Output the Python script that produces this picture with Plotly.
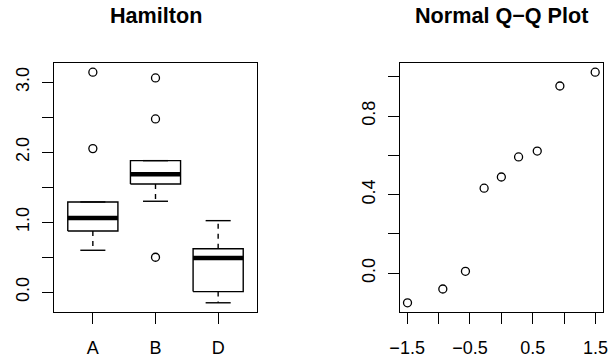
import plotly.graph_objects as go
from statistics import NormalDist

# ---------------- data ----------------
groups = ["A", "B", "D"]
lower_whisker = [0.600, 1.300, -0.150]
q1 = [0.876, 1.547, 0.010]
median = [1.061, 1.686, 0.490]
q3 = [1.290, 1.880, 0.622]
upper_whisker = [1.290, 1.880, 1.023]
outlier_group = ["A", "A", "B", "B", "B"]
outlier_value = [2.052, 3.143, 0.500, 2.476, 3.061]

qq_sample = [-0.150, -0.080, 0.010, 0.433, 0.490, 0.592, 0.622, 0.953, 1.023]

left_yticks = [0.0, 0.5, 1.0, 1.5, 2.0, 2.5, 3.0]
left_yticklabels = ["0.0", "", "1.0", "", "2.0", "", "3.0"]
right_xticks = [-1.5, -1.0, -0.5, 0.0, 0.5, 1.0, 1.5]
right_xticklabels = ["\u22121.5", "", "\u22120.5", "", "0.5", "", "1.5"]
right_yticks = [0.0, 0.2, 0.4, 0.6, 0.8, 1.0]
right_yticklabels = ["0.0", "", "0.4", "", "0.8", ""]

titles = ["Hamilton", "Normal Q\u2212Q Plot"]

# ---------------- helpers ----------------
def padded(lo, hi, f=0.04):
    d = (hi - lo) * f
    return [lo - d, hi + d]

FONT = "Liberation Sans, Arial, Helvetica, sans-serif"
BOXWEX = 0.8
STAPLE = 0.5 * BOXWEX
pos = [i + 1 for i in range(len(groups))]

fig = go.Figure()

# box outlines
bx, by = [], []
for p, a, b in zip(pos, q1, q3):
    h = BOXWEX / 2
    bx += [p - h, p + h, p + h, p - h, p - h, None]
    by += [a, a, b, b, a, None]
fig.add_trace(go.Scatter(x=bx, y=by, mode="lines", line=dict(color="black", width=1.4),
                         xaxis="x", yaxis="y", showlegend=False, hoverinfo="skip"))
# medians
mx, my = [], []
for p, m in zip(pos, median):
    h = BOXWEX / 2
    mx += [p - h, p + h, None]
    my += [m, m, None]
fig.add_trace(go.Scatter(x=mx, y=my, mode="lines", line=dict(color="black", width=4.5),
                         xaxis="x", yaxis="y", showlegend=False, hoverinfo="skip"))
# whiskers (dashed)
wx, wy = [], []
for p, a, b, lo, hi in zip(pos, q1, q3, lower_whisker, upper_whisker):
    wx += [p, p, None, p, p, None]
    wy += [b, hi, None, a, lo, None]
fig.add_trace(go.Scatter(x=wx, y=wy, mode="lines",
                         line=dict(color="black", width=1.4, dash="5px,5px"),
                         xaxis="x", yaxis="y", showlegend=False, hoverinfo="skip"))
# staples
sx, sy = [], []
for p, lo, hi in zip(pos, lower_whisker, upper_whisker):
    h = STAPLE / 2
    sx += [p - h, p + h, None, p - h, p + h, None]
    sy += [lo, lo, None, hi, hi, None]
fig.add_trace(go.Scatter(x=sx, y=sy, mode="lines", line=dict(color="black", width=1.4),
                         xaxis="x", yaxis="y", showlegend=False, hoverinfo="skip"))
# outliers
ox = [pos[groups.index(g)] for g in outlier_group]
fig.add_trace(go.Scatter(x=ox, y=outlier_value, mode="markers",
                         marker=dict(symbol="circle-open", size=8, color="black",
                                     line=dict(width=1.3, color="black")),
                         xaxis="x", yaxis="y", showlegend=False))

# Q-Q
n = len(qq_sample)
a_ = 3 / 8 if n <= 10 else 0.5
theo = [NormalDist().inv_cdf((i - a_) / (n + 1 - 2 * a_)) for i in range(1, n + 1)]
samp = sorted(qq_sample)
fig.add_trace(go.Scatter(x=theo, y=samp, mode="markers",
                         marker=dict(symbol="circle-open", size=8, color="black",
                                     line=dict(width=1.3, color="black")),
                         xaxis="x2", yaxis="y2", showlegend=False))

# ranges
all_left = lower_whisker + upper_whisker + outlier_value + q1 + q3
left_yrange = padded(min(all_left), max(all_left))
left_xrange = padded(0.5, len(groups) + 0.5)
right_xrange = padded(min(theo), max(theo))
right_yrange = padded(min(samp), max(samp))

axis_common = dict(showline=True, mirror=True, linecolor="black", linewidth=1.4,
                   ticks="outside", ticklen=11, tickwidth=1.4, tickcolor="black",
                   showgrid=False, zeroline=False, automargin=False,
                   tickfont=dict(family=FONT, size=18, color="black"))

dom_y = [48 / 360, 297 / 360]
dom_x1 = [54 / 611, 257 / 611]
dom_x2 = [400 / 611, 602.7 / 611]

fig.update_layout(
    width=611, height=360, autosize=False,
    margin=dict(l=0, r=0, t=0, b=0),
    paper_bgcolor="white", plot_bgcolor="white",
    font=dict(family=FONT, color="black"),
    xaxis=dict(axis_common, domain=dom_x1, range=left_xrange, tickmode="array",
               tickvals=pos, ticktext=groups, anchor="y", ticklabelstandoff=8),
    yaxis=dict(axis_common, domain=dom_y, range=left_yrange, tickmode="array",
               tickvals=left_yticks, ticktext=left_yticklabels, tickangle=-90,
               anchor="x", ticklabelstandoff=6),
    xaxis2=dict(axis_common, domain=dom_x2, range=right_xrange, tickmode="array",
                tickvals=right_xticks, ticktext=right_xticklabels, anchor="y2",
                ticklabelstandoff=8),
    yaxis2=dict(axis_common, domain=dom_y, range=right_yrange, tickmode="array",
                tickvals=right_yticks, ticktext=right_yticklabels, tickangle=-90,
                anchor="x2", ticklabelstandoff=6),
)

for t, d in zip(titles, [dom_x1, dom_x2]):
    fig.add_annotation(text=t, xref="paper", yref="paper", x=(d[0] + d[1]) / 2,
                       y=1 - 16 / 360, xanchor="center", yanchor="middle", showarrow=False,
                       font=dict(family=FONT, size=21.6, color="black", weight="bold"))

fig.write_html("out.html", config={"displayModeBar": False},
               post_script="document.body.style.margin='0px';document.body.style.overflow='hidden';")
